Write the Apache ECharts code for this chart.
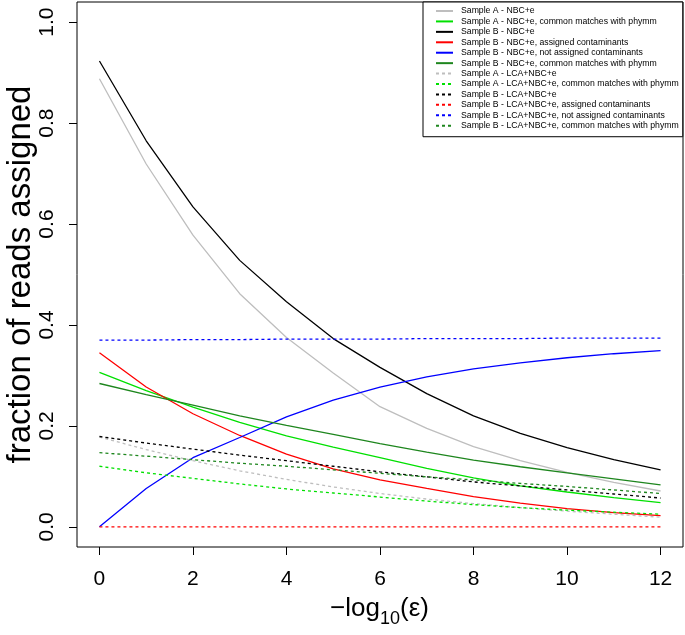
<!DOCTYPE html>
<html>
<head>
<meta charset="utf-8">
<script src="https://cdn.jsdelivr.net/npm/echarts@6/dist/echarts.min.js"></script>
<style>html,body{margin:0;padding:0;background:#fff;}#c{width:685px;height:635px;}</style>
</head>
<body>
<div id="c"></div>
<script>
const xs = [0,1,2,3,4,5,6,7,8,9,10,11,12];
const xTicks = [0,2,4,6,8,10,12];
const yTicks = [0,0.2,0.4,0.6,0.8,1.0];

const names = [
  "Sample A - NBC+e",
  "Sample A - NBC+e, common matches with phymm",
  "Sample B - NBC+e",
  "Sample B - NBC+e, assigned contaminants",
  "Sample B - NBC+e, not assigned contaminants",
  "Sample B - NBC+e, common matches with phymm",
  "Sample A - LCA+NBC+e",
  "Sample A - LCA+NBC+e, common matches with phymm",
  "Sample B - LCA+NBC+e",
  "Sample B - LCA+NBC+e, assigned contaminants",
  "Sample B - LCA+NBC+e, not assigned contaminants",
  "Sample B - LCA+NBC+e, common matches with phymm"
];

const aNBC          = [0.888,0.719,0.578,0.462,0.375,0.305,0.238,0.195,0.159,0.131,0.108,0.088,0.071];
const aNBCCommon    = [0.306,0.270,0.237,0.207,0.180,0.158,0.137,0.116,0.097,0.081,0.069,0.058,0.048];
const bNBC          = [0.923,0.765,0.634,0.528,0.446,0.373,0.316,0.264,0.220,0.185,0.157,0.133,0.113];
const bNBCContam    = [0.345,0.277,0.224,0.181,0.144,0.115,0.093,0.076,0.060,0.047,0.036,0.028,0.022];
const bNBCNotContam = [0.000,0.076,0.137,0.177,0.218,0.251,0.277,0.297,0.313,0.325,0.335,0.343,0.349];
const bNBCCommon    = [0.284,0.262,0.241,0.220,0.201,0.183,0.165,0.148,0.132,0.119,0.107,0.095,0.083];
const aLCA          = [0.178,0.153,0.131,0.111,0.094,0.079,0.066,0.055,0.046,0.038,0.031,0.025,0.019];
const aLCACommon    = [0.120,0.107,0.096,0.085,0.075,0.067,0.059,0.051,0.044,0.038,0.033,0.029,0.025];
const bLCA          = [0.179,0.166,0.154,0.142,0.131,0.120,0.109,0.099,0.089,0.081,0.073,0.065,0.057];
const bLCAContam    = [0,0,0,0,0,0,0,0,0,0,0,0,0];
const bLCANotContam = [0.370,0.370,0.371,0.371,0.372,0.372,0.372,0.373,0.373,0.373,0.374,0.374,0.374];
const bLCACommon    = [0.147,0.140,0.133,0.126,0.120,0.113,0.106,0.099,0.093,0.086,0.080,0.073,0.066];

const values = [aNBC,aNBCCommon,bNBC,bNBCContam,bNBCNotContam,bNBCCommon,
                aLCA,aLCACommon,bLCA,bLCAContam,bLCANotContam,bLCACommon];
const colors = ['#bebebe','#00e000','#000000','#ff0000','#0000ff','#1e861e',
                '#bebebe','#00e000','#000000','#ff0000','#0000ff','#1e861e'];
const dashed = [false,false,false,false,false,false,true,true,true,true,true,true];

const FONT = 'Liberation Sans, Arial, Helvetica, sans-serif';

const series = names.map((n, i) => ({
  name: n,
  type: 'line',
  data: xs.map((x, j) => [x, values[i][j]]),
  symbol: 'none',
  smooth: false,
  animation: false,
  lineStyle: { color: colors[i], width: 1.3, type: dashed[i] ? [3,3] : 'solid' },
  itemStyle: { color: colors[i] }
}));

const chart = echarts.init(document.getElementById('c'), null, { renderer: 'canvas' });
chart.setOption({
  backgroundColor: '#ffffff',
  animation: false,
  grid: { left: 77, right: 2, top: 2, bottom: 88, show: true, borderColor: '#000', borderWidth: 1,
          backgroundColor: 'transparent', containLabel: false, outerBoundsMode: 'none' },
  xAxis: {
    type: 'value', min: -0.48, max: 12.48,
    axisLine: { show: false, onZero: false },
    axisTick: { show: true, inside: false, length: 8, lineStyle: { color: '#000', width: 1 }, customValues: xTicks },
    axisLabel: { show: true, margin: 22, fontSize: 21, color: '#000', fontFamily: FONT, customValues: xTicks },
    splitLine: { show: false }
  },
  yAxis: {
    type: 'value', min: -0.04, max: 1.04,
    axisLine: { show: false, onZero: false },
    axisTick: { show: true, inside: false, length: 8, lineStyle: { color: '#000', width: 1 }, customValues: yTicks },
    axisLabel: { show: true, rotate: 90, margin: 19, fontSize: 21, color: '#000', fontFamily: FONT,
                 customValues: yTicks, formatter: v => v.toFixed(1) },
    splitLine: { show: false },
    name: 'fraction of reads assigned', nameLocation: 'middle', nameGap: 40, nameRotate: 90,
    nameMoveOverlap: false,
    nameTextStyle: { fontSize: 33, color: '#000', fontFamily: FONT }
  },
  legend: {
    show: true, orient: 'vertical', left: 423, top: 2,
    data: names,
    itemWidth: 17, itemHeight: 10, itemGap: 0.43,
    padding: [4, 4, 6, 12],
    borderColor: '#000', borderWidth: 1, backgroundColor: '#fff',
    selectedMode: false,
    itemStyle: { opacity: 0 },
    textStyle: { fontSize: 8.7, color: '#000', fontFamily: FONT, lineHeight: 10, padding: [0,0,0,3] }
  },
  graphic: [
    { type: 'text', left: 330, top: 596, style: { text: '\u2212log', font: '26px ' + FONT, fill: '#000' } },
    { type: 'text', left: 380, top: 610, style: { text: '10', font: '18px ' + FONT, fill: '#000' } },
    { type: 'text', left: 400, top: 596, style: { text: '(\u03b5)', font: '26px ' + FONT, fill: '#000' } }
  ],
  series: series
});
</script>
</body>
</html>
